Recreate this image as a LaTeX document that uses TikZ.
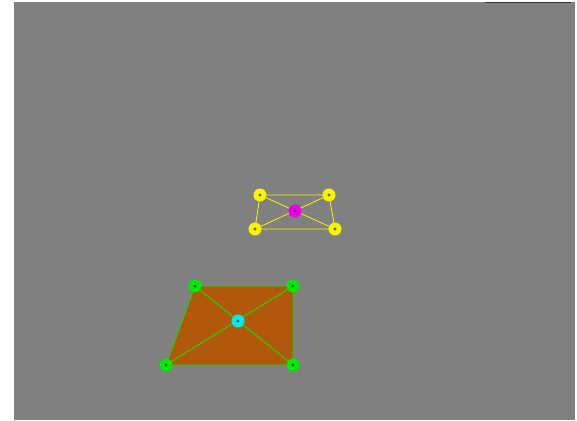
\documentclass[tikz,border=0pt]{standalone}
\definecolor{bg}{RGB}{128,128,128}
\definecolor{fillor}{RGB}{178,88,12}
\definecolor{grn}{RGB}{0,235,0}
\definecolor{yel}{RGB}{245,245,0}
\definecolor{mag}{RGB}{235,0,235}
\definecolor{cya}{RGB}{0,235,235}
\tikzset{
  marker/.style={circle,draw=#1,line width=1pt,fill=#1,minimum size=12pt,inner sep=0pt,
    path picture={\fill[#1!45!black] (path picture bounding box.center) circle (1.6pt);}},
  edge/.style={draw=#1,line width=0.8pt}
}
\begin{document}
\begin{tikzpicture}[x=1pt,y=-1pt]
\useasboundingbox (0,0) rectangle (577,420);
\fill[white] (0,0) rectangle (577,420);
\fill[bg] (14,2) rectangle (575,420);
\draw[black!80,line width=1pt] (485,2.5) -- (571,2.5);
% yellow group
\coordinate (y1) at (260,195);
\coordinate (y2) at (329,195);
\coordinate (y3) at (335,229);
\coordinate (y4) at (255,229);
\coordinate (m) at (295,211);
\draw[edge=yel] (y1) -- (y2) -- (y3) -- (y4) -- cycle;
\draw[edge=yel] (y1) -- (y3) (y2) -- (y4);
\node[marker=mag] (mc) at (m) {};
\node[marker=yel] (n1) at (y1) {};
\node[marker=yel] (n2) at (y2) {};
\node[marker=yel] (n3) at (y3) {};
\node[marker=yel] (n4) at (y4) {};
% green group
\coordinate (g1) at (195,286);
\coordinate (g2) at (293,286);
\coordinate (g3) at (293,365);
\coordinate (g4) at (166,365);
\coordinate (c) at (238,321);
\fill[fillor] (g1) -- (g2) -- (g3) -- (g4) -- cycle;
\draw[edge=grn] (g1) -- (g2) -- (g3) -- (g4) -- cycle;
\draw[edge=grn] (g1) -- (g3) (g2) -- (g4);
\node[marker=cya] (cc) at (c) {};
\node[marker=grn] (k1) at (g1) {};
\node[marker=grn] (k2) at (g2) {};
\node[marker=grn] (k3) at (g3) {};
\node[marker=grn] (k4) at (g4) {};
\end{tikzpicture}
\end{document}
